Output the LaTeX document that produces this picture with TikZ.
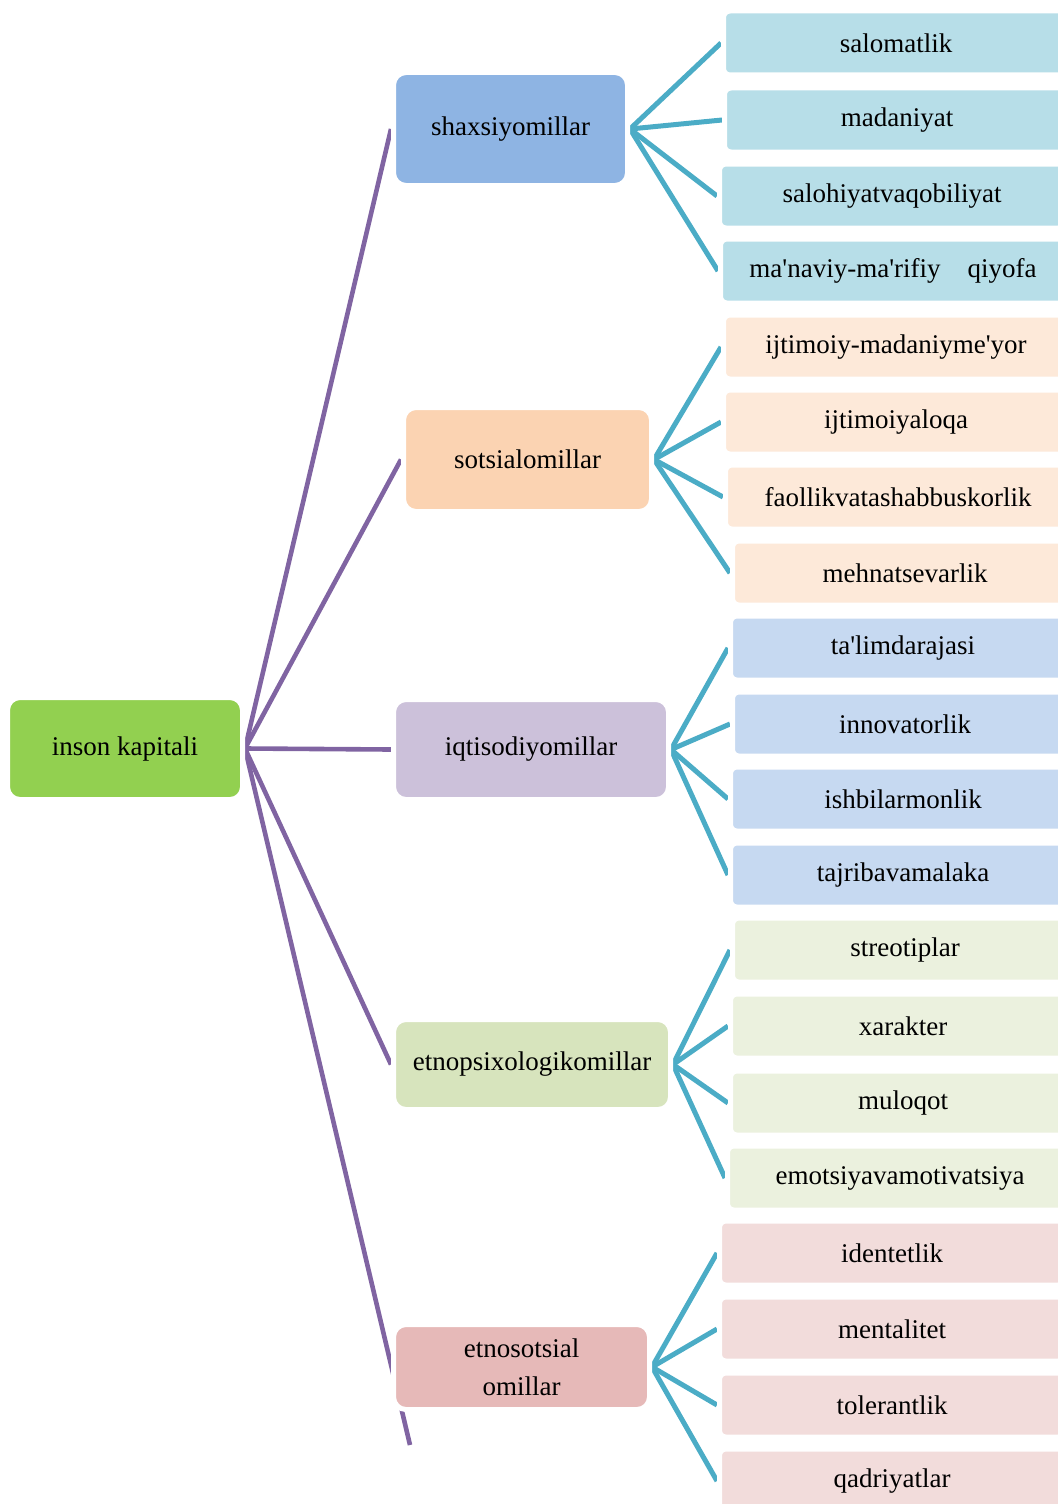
\documentclass[tikz,border=0pt]{standalone}
\usepackage{fontspec}
\setmainfont{Liberation Serif}
\usetikzlibrary{backgrounds}
\definecolor{rootgreen}{HTML}{92D050}
\definecolor{shaxsiyblue}{HTML}{8EB4E3}
\definecolor{sotsialorange}{HTML}{FBD3B2}
\definecolor{iqtisodlilac}{HTML}{CCC1DA}
\definecolor{etnopsixgreen}{HTML}{D7E4BD}
\definecolor{etnosotspink}{HTML}{E6B9B8}
\definecolor{leafblue}{HTML}{B7DEE8}
\definecolor{leafpeach}{HTML}{FDE9D9}
\definecolor{leafsky}{HTML}{C6D9F1}
\definecolor{leafgreen}{HTML}{EBF1DE}
\definecolor{leafpink}{HTML}{F2DCDB}
\definecolor{rootline}{HTML}{8064A2}
\definecolor{branchline}{HTML}{4BACC6}
\newcommand{\aps}{\textquotesingle}

\begin{document}
\begin{tikzpicture}[x=0.5pt, y=-0.5pt, font=\fontsize{13.5}{19}\selectfont]

		% Setup the style for the boxes
		\tikzset{main style/.style={rectangle,
				rounded corners=6.25pt,
				draw=white,
				line width=2.5pt,
				align=center},
			leaf style/.style={rectangle,
				rounded corners=3.25pt,
				draw=white,
				line width=2.5pt,
				anchor=west,
				minimum width=172.5pt,
				minimum height=32pt}}

		\useasboundingbox (0, 0) rectangle (1058, 1504);
		\clip (0, 0) rectangle (1058, 1504);

		% Draw the main boxes
		\node[main style, fill=rootgreen, minimum width=117.5pt, minimum height=51pt] at (125, 748.5) (kapital) {inson kapitali};
		\node[main style, fill=shaxsiyblue, minimum width=117pt, minimum height=56.5pt] at (510.5, 129) (shaxsiy) {shaxsiyomillar};
		\node[main style, fill=sotsialorange, minimum width=124pt, minimum height=52pt] at (527.5, 459.5) (sotsial) {sotsialomillar};
		\node[main style, fill=iqtisodlilac, minimum width=137.5pt, minimum height=50pt] at (531, 749.5) (iqtisodiy) {iqtisodiyomillar};
		\node[main style, fill=etnopsixgreen, minimum width=138.5pt, minimum height=45pt] at (532, 1064.5) (etnopsix) {etnopsixologikomillar};
		\node[main style, fill=etnosotspink, minimum width=128pt, minimum height=42.5pt] at (521.5, 1367) (etnosots) {etnosotsial\\omillar};
		\coordinate (tail) at (410, 1445);

		% Draw the leaves
		\node[leaf style, fill=leafblue] at (721, 43) (salomatlik) {salomatlik};
		\node[leaf style, fill=leafblue] at (722, 120) (madaniyat) {madaniyat};
		\node[leaf style, fill=leafblue] at (717, 196) (salohiyat) {salohiyatvaqobiliyat};
		\node[leaf style, fill=leafblue] at (718, 271) (manaviy) {ma\aps naviy-ma\aps rifiy\quad qiyofa};
		\node[leaf style, fill=leafpeach] at (721, 347) (meyor) {ijtimoiy-madaniyme\aps yor};
		\node[leaf style, fill=leafpeach] at (721, 422) (aloqa) {ijtimoiyaloqa};
		\node[leaf style, fill=leafpeach] at (723, 497) (faollik) {faollikvatashabbuskorlik};
		\node[leaf style, fill=leafpeach] at (730, 573) (mehnat) {mehnatsevarlik};
		\node[leaf style, fill=leafsky] at (728, 648) (talim) {ta\aps limdarajasi};
		\node[leaf style, fill=leafsky] at (730, 724) (innovator) {innovatorlik};
		\node[leaf style, fill=leafsky] at (728, 799) (ishbilarmon) {ishbilarmonlik};
		\node[leaf style, fill=leafsky] at (728, 875) (tajriba) {tajribavamalaka};
		\node[leaf style, fill=leafgreen] at (730, 950) (streotip) {streotiplar};
		\node[leaf style, fill=leafgreen] at (728, 1026) (xarakter) {xarakter};
		\node[leaf style, fill=leafgreen] at (728, 1103) (muloqot) {muloqot};
		\node[leaf style, fill=leafgreen] at (725, 1178) (emotsiya) {emotsiyavamotivatsiya};
		\node[leaf style, fill=leafpink] at (717, 1253) (identet) {identetlik};
		\node[leaf style, fill=leafpink] at (717, 1329) (mentalitet) {mentalitet};
		\node[leaf style, fill=leafpink] at (717, 1405) (tolerant) {tolerantlik};
		\node[leaf style, fill=leafpink] at (717, 1481) (qadriyat) {qadriyatlar};

		% Connect the boxes, behind them
		\begin{scope}[on background layer]
		\draw[line width=2.3pt, draw=rootline]
		(kapital.east) edge (shaxsiy.west)
		(kapital.east) edge (sotsial.west)
		(kapital.east) edge (iqtisodiy.west)
		(kapital.east) edge (etnopsix.west)
		(kapital.east) edge (tail);
		\draw[line width=2.5pt, draw=branchline]
		(shaxsiy.east) edge (salomatlik.west)
		(shaxsiy.east) edge (madaniyat.west)
		(shaxsiy.east) edge (salohiyat.west)
		(shaxsiy.east) edge (manaviy.west)
		(sotsial.east) edge (meyor.west)
		(sotsial.east) edge (aloqa.west)
		(sotsial.east) edge (faollik.west)
		(sotsial.east) edge (mehnat.west)
		(iqtisodiy.east) edge (talim.west)
		(iqtisodiy.east) edge (innovator.west)
		(iqtisodiy.east) edge (ishbilarmon.west)
		(iqtisodiy.east) edge (tajriba.west)
		(etnopsix.east) edge (streotip.west)
		(etnopsix.east) edge (xarakter.west)
		(etnopsix.east) edge (muloqot.west)
		(etnopsix.east) edge (emotsiya.west)
		(etnosots.east) edge (identet.west)
		(etnosots.east) edge (mentalitet.west)
		(etnosots.east) edge (tolerant.west)
		(etnosots.east) edge (qadriyat.west);
		\end{scope}
\end{tikzpicture}
\end{document}
